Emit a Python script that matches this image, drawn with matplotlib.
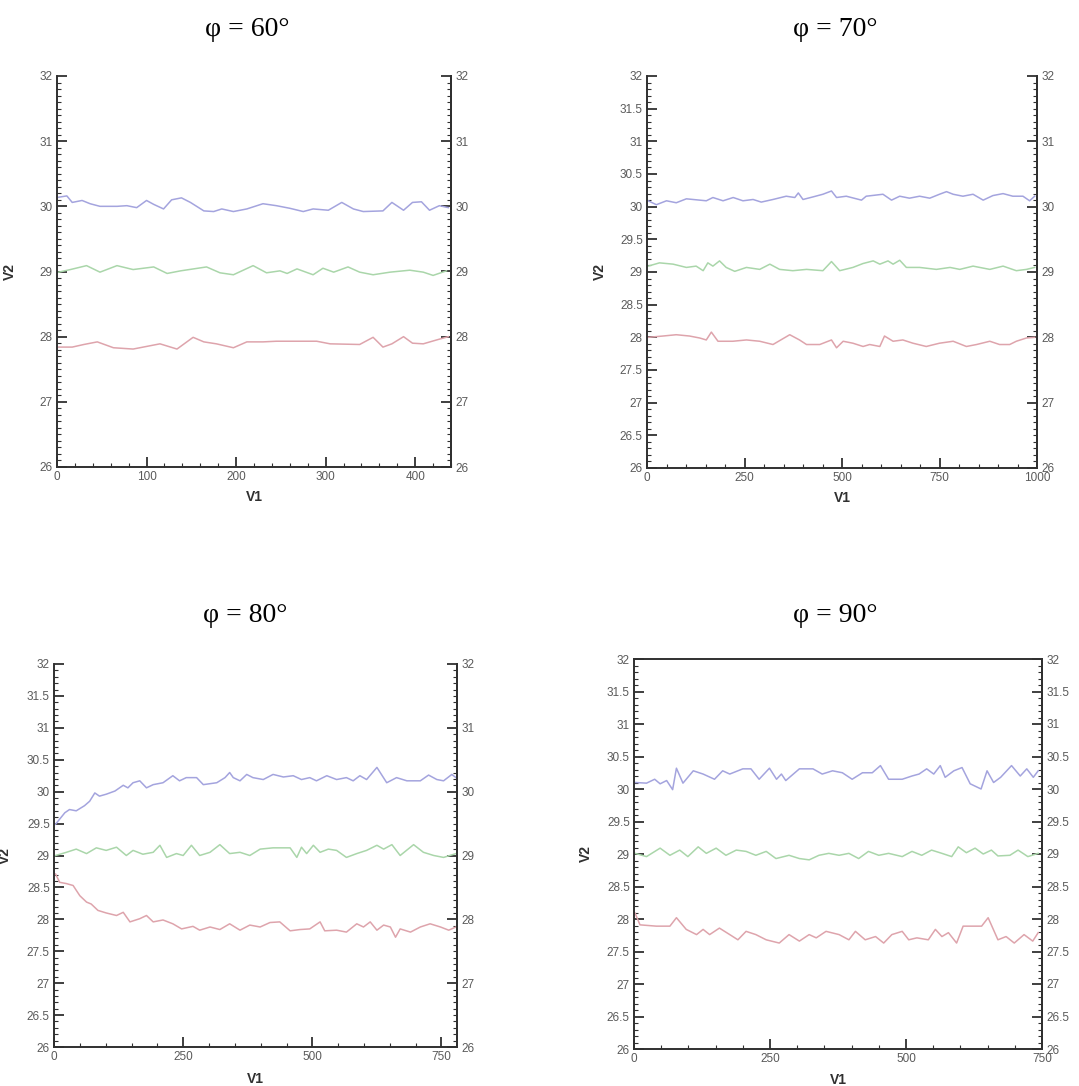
import numpy as np
import matplotlib
matplotlib.use('Agg')
import matplotlib.pyplot as plt
from matplotlib.ticker import MultipleLocator

# ---- phi = 60 ----
x60_blue = [2, 11, 17, 28, 37, 48, 67, 78, 89, 100, 108, 119, 128, 139, 149, 164, 175, 184, 197, 212,
            230, 245, 260, 275, 286, 303, 318, 331, 342, 364, 374, 387, 397, 407, 416, 427, 437]
v60_blue = [30.14, 30.16, 30.06, 30.09, 30.04, 30.0, 30.0, 30.01, 29.98, 30.09, 30.03, 29.96, 30.1, 30.13,
            30.06, 29.93, 29.92, 29.96, 29.92, 29.96, 30.04, 30.01, 29.97, 29.92, 29.96, 29.94, 30.06,
            29.96, 29.92, 29.93, 30.06, 29.94, 30.06, 30.07, 29.94, 30.01, 29.98]
x60_green = [2, 15, 33, 48, 67, 85, 108, 123, 138, 167, 182, 197, 219, 234, 249, 257, 268, 286, 297, 309,
             325, 338, 353, 372, 394, 409, 420, 435]
v60_green = [28.99, 29.03, 29.09, 28.99, 29.09, 29.03, 29.07, 28.97, 29.01, 29.07, 28.98, 28.95, 29.09,
             28.98, 29.01, 28.97, 29.04, 28.95, 29.05, 28.99, 29.07, 28.99, 28.95, 28.99, 29.02, 28.99,
             28.94, 29.01]
x60_red = [2, 17, 30, 45, 63, 85, 100, 115, 134, 152, 164, 178, 197, 212, 230, 245, 290, 305, 338, 353,
           364, 374, 387, 397, 409, 424, 437]
v60_red = [27.84, 27.84, 27.88, 27.92, 27.83, 27.81, 27.85, 27.89, 27.81, 27.99, 27.92, 27.89, 27.83,
           27.92, 27.92, 27.93, 27.93, 27.89, 27.88, 27.99, 27.84, 27.89, 28.0, 27.9, 27.89, 27.95, 28.0]

# ---- phi = 70 ----
x70_blue = [3, 24, 50, 75, 101, 135, 152, 169, 195, 221, 246, 272, 293, 323, 357, 379, 388, 400, 426,
            451, 473, 486, 511, 550, 562, 605, 627, 648, 673, 699, 725, 750, 768, 785, 810, 836, 862,
            887, 913, 938, 964, 981, 994]
v70_blue = [30.09, 30.03, 30.09, 30.06, 30.12, 30.1, 30.09, 30.14, 30.09, 30.14, 30.09, 30.11, 30.07,
            30.11, 30.16, 30.14, 30.21, 30.11, 30.15, 30.19, 30.24, 30.14, 30.16, 30.1, 30.16, 30.19,
            30.1, 30.16, 30.13, 30.16, 30.13, 30.19, 30.23, 30.19, 30.16, 30.19, 30.1, 30.17, 30.2,
            30.16, 30.16, 30.09, 30.16]
x70_green = [3, 32, 67, 101, 126, 144, 156, 169, 186, 203, 225, 255, 289, 315, 340, 374, 409, 451, 473,
             494, 528, 554, 580, 597, 618, 631, 648, 665, 699, 742, 777, 802, 836, 879, 913, 947, 973, 994]
v70_green = [29.09, 29.14, 29.12, 29.07, 29.09, 29.02, 29.14, 29.09, 29.17, 29.07, 29.01, 29.07, 29.04,
             29.12, 29.04, 29.02, 29.04, 29.02, 29.16, 29.02, 29.07, 29.13, 29.17, 29.12, 29.17, 29.12,
             29.18, 29.07, 29.07, 29.04, 29.07, 29.04, 29.09, 29.04, 29.09, 29.02, 29.04, 29.07]
x70_red = [3, 41, 75, 109, 135, 152, 165, 182, 220, 255, 289, 323, 366, 391, 409, 443, 473, 486, 503,
           528, 554, 571, 597, 609, 631, 656, 682, 716, 750, 785, 819, 845, 879, 904, 930, 947, 973, 994]
v70_red = [28.0, 28.02, 28.04, 28.02, 27.99, 27.96, 28.08, 27.94, 27.94, 27.96, 27.94, 27.89, 28.04,
           27.96, 27.89, 27.89, 27.96, 27.84, 27.94, 27.91, 27.86, 27.89, 27.86, 28.02, 27.94, 27.96,
           27.91, 27.86, 27.91, 27.94, 27.86, 27.89, 27.94, 27.89, 27.89, 27.94, 27.99, 28.0]

# ---- phi = 80 ----
x80_blue = [3, 11, 21, 30, 43, 59, 69, 79, 88, 101, 118, 134, 143, 153, 166, 179, 192, 211, 230, 243,
            256, 276, 289, 315, 331, 340, 347, 360, 373, 385, 405, 424, 444, 463, 479, 495, 508, 528,
            547, 566, 579, 592, 605, 625, 644, 663, 683, 709, 725, 741, 754, 770, 778]
v80_blue = [29.49, 29.57, 29.67, 29.72, 29.70, 29.78, 29.85, 29.98, 29.93, 29.96, 30.01, 30.10, 30.06,
            30.14, 30.17, 30.06, 30.11, 30.14, 30.25, 30.17, 30.22, 30.22, 30.11, 30.14, 30.22, 30.30,
            30.22, 30.17, 30.27, 30.22, 30.19, 30.27, 30.23, 30.25, 30.19, 30.22, 30.17, 30.25, 30.19,
            30.22, 30.17, 30.25, 30.19, 30.38, 30.14, 30.22, 30.17, 30.17, 30.26, 30.19, 30.17, 30.27,
            30.22]
x80_green = [3, 24, 43, 63, 82, 101, 121, 140, 153, 172, 192, 205, 218, 237, 250, 266, 282, 302, 321,
             340, 360, 379, 399, 424, 457, 470, 479, 489, 502, 515, 531, 547, 566, 586, 605, 625, 638,
             654, 670, 696, 715, 735, 754, 778]
v80_green = [29.0, 29.05, 29.10, 29.03, 29.12, 29.08, 29.13, 29.0, 29.08, 29.02, 29.05, 29.16, 28.97,
             29.03, 29.0, 29.16, 29.0, 29.05, 29.17, 29.03, 29.05, 29.0, 29.10, 29.12, 29.12, 28.97,
             29.13, 29.03, 29.16, 29.05, 29.10, 29.08, 28.97, 29.03, 29.08, 29.16, 29.10, 29.17, 29.0,
             29.17, 29.05, 29.0, 28.97, 29.03]
x80_red = [3, 11, 24, 37, 50, 63, 72, 85, 101, 121, 134, 147, 166, 179, 192, 211, 230, 247, 269, 282,
           302, 321, 340, 360, 379, 399, 418, 437, 457, 476, 495, 515, 524, 547, 566, 586, 599, 612,
           625, 638, 651, 661, 670, 690, 709, 728, 748, 764, 778]
v80_red = [28.71, 28.58, 28.56, 28.53, 28.37, 28.27, 28.24, 28.14, 28.10, 28.06, 28.11, 27.96, 28.01,
           28.06, 27.96, 27.99, 27.93, 27.85, 27.89, 27.83, 27.88, 27.84, 27.93, 27.83, 27.91, 27.88,
           27.95, 27.96, 27.82, 27.84, 27.85, 27.96, 27.82, 27.83, 27.80, 27.93, 27.88, 27.96, 27.83,
           27.91, 27.88, 27.72, 27.85, 27.80, 27.88, 27.93, 27.88, 27.83, 27.88]

# ---- phi = 90 ----
x90_blue = [2, 23, 38, 48, 60, 71, 78, 90, 109, 127, 148, 163, 176, 200, 215, 230, 249, 262, 271, 279,
            304, 329, 346, 365, 383, 401, 420, 438, 453, 468, 493, 511, 524, 538, 551, 563, 572, 588,
            603, 618, 638, 649, 661, 674, 694, 710, 722, 734, 743]
v90_blue = [30.1, 30.09, 30.15, 30.08, 30.13, 29.99, 30.32, 30.09, 30.28, 30.23, 30.15, 30.28, 30.23,
            30.31, 30.31, 30.15, 30.32, 30.15, 30.23, 30.13, 30.31, 30.31, 30.23, 30.28, 30.25, 30.15,
            30.25, 30.25, 30.36, 30.15, 30.15, 30.2, 30.23, 30.31, 30.23, 30.36, 30.18, 30.28, 30.33,
            30.08, 30.0, 30.28, 30.1, 30.18, 30.36, 30.2, 30.31, 30.18, 30.28]
x90_green = [2, 23, 48, 66, 84, 99, 118, 133, 151, 169, 188, 206, 224, 243, 261, 285, 304, 322, 340,
             358, 377, 395, 413, 431, 450, 468, 493, 511, 529, 547, 566, 584, 596, 611, 627, 642, 657,
             669, 691, 706, 724, 743]
v90_green = [29.01, 28.96, 29.09, 28.98, 29.06, 28.96, 29.11, 29.01, 29.09, 28.98, 29.06, 29.04, 28.98,
             29.04, 28.93, 28.98, 28.93, 28.91, 28.98, 29.01, 28.98, 29.01, 28.93, 29.04, 28.98, 29.01,
             28.96, 29.04, 28.98, 29.06, 29.01, 28.96, 29.11, 29.02, 29.09, 29.0, 29.06, 28.97, 28.98,
             29.06, 28.96, 29.01]
x90_red = [2, 11, 41, 66, 78, 96, 115, 127, 139, 157, 176, 191, 206, 224, 243, 267, 285, 304, 322, 335,
           353, 377, 395, 407, 425, 444, 459, 474, 493, 505, 520, 541, 554, 566, 578, 593, 605, 639,
           651, 669, 684, 699, 717, 733, 743]
v90_red = [28.09, 27.91, 27.89, 27.89, 28.02, 27.84, 27.76, 27.84, 27.76, 27.86, 27.76, 27.68, 27.81,
           27.76, 27.68, 27.63, 27.76, 27.66, 27.76, 27.71, 27.81, 27.76, 27.68, 27.81, 27.68, 27.73,
           27.63, 27.76, 27.81, 27.68, 27.71, 27.68, 27.84, 27.73, 27.79, 27.63, 27.89, 27.89, 28.02,
           27.68, 27.73, 27.63, 27.76, 27.66, 27.79]

titles = ['φ = 60°', 'φ = 70°', 'φ = 80°', 'φ = 90°']
x_max = [440, 1000, 780, 750]
x_major = [100, 250, 250, 250]
left_step = [1, 0.5, 0.5, 0.5]
right_step = [1, 1, 1, 0.5]

series = [
    [(x60_blue, v60_blue), (x60_green, v60_green), (x60_red, v60_red)],
    [(x70_blue, v70_blue), (x70_green, v70_green), (x70_red, v70_red)],
    [(x80_blue, v80_blue), (x80_green, v80_green), (x80_red, v80_red)],
    [(x90_blue, v90_blue), (x90_green, v90_green), (x90_red, v90_red)],
]
colors = ['#a4a4de', '#aad6aa', '#dea4ac']

W, H = 1079, 1086
# axes boxes in pixels: left, top, right, bottom
boxes = [(57, 76, 451, 467), (647, 76, 1037, 468), (54, 664, 457, 1047), (634, 659, 1042, 1049)]
title_pos = [(247, 30), (835, 30), (245, 615), (835, 615)]
ylabel_off = [40, 40, 42, 41]
xlabel_off = [23, 23, 25, 24]

spine_col = '#303030'
tick_col = '#5a5a5a'
tick_font = 'Liberation Sans'

fig = plt.figure(figsize=(W / 100, H / 100), dpi=100)

for i in range(4):
    l, t, r, b = boxes[i]
    ax = fig.add_axes([l / W, 1 - b / H, (r - l) / W, (b - t) / H])
    for (xs, ys), c in zip(series[i], colors):
        ax.plot(xs, ys, color=c, lw=1.1)
    ax.set_xlim(0, x_max[i])
    ax.set_ylim(26, 32)

    ax.xaxis.set_major_locator(MultipleLocator(x_major[i]))
    ax.xaxis.set_minor_locator(MultipleLocator(x_major[i] / 5))
    ax.yaxis.set_major_locator(MultipleLocator(left_step[i]))
    ax.yaxis.set_minor_locator(MultipleLocator(0.1))
    ax.tick_params(which='major', direction='in', length=7, width=1.3, color=spine_col,
                   labelsize=8.5, labelcolor=tick_col, pad=3, top=False, right=False)
    ax.tick_params(which='minor', direction='in', length=3, width=0.8, color=spine_col,
                   top=False, right=False)
    for lab in ax.get_xticklabels() + ax.get_yticklabels():
        lab.set_fontfamily(tick_font)
    ax.yaxis.set_major_formatter(plt.FuncFormatter(lambda v, p: f'{v:g}'))

    for s in ['left', 'right', 'bottom', 'top']:
        ax.spines[s].set_color(spine_col)
        ax.spines[s].set_linewidth(1.4)
    if i != 3:
        ax.spines['top'].set_visible(False)

    sec = ax.secondary_yaxis('right')
    sec.yaxis.set_major_locator(MultipleLocator(right_step[i]))
    sec.yaxis.set_minor_locator(MultipleLocator(0.1))
    sec.yaxis.set_major_formatter(plt.FuncFormatter(lambda v, p: f'{v:g}'))
    sec.tick_params(which='major', direction='in', length=7, width=1.3, color=spine_col,
                    labelsize=8.5, labelcolor=tick_col, pad=3)
    sec.tick_params(which='minor', direction='in', length=3, width=0.8, color=spine_col)
    sec.spines['right'].set_color(spine_col)
    sec.spines['right'].set_linewidth(1.4)
    for lab in sec.get_yticklabels():
        lab.set_fontfamily(tick_font)

    ax.set_ylabel('V2', fontsize=10, fontweight='bold', color='#303030', family=tick_font)
    ax.yaxis.set_label_coords(-ylabel_off[i] / (r - l), 0.5)
    ax.set_xlabel('V1', fontsize=10, fontweight='bold', color='#303030', family=tick_font)
    ax.xaxis.set_label_coords(0.5, -xlabel_off[i] / (b - t))

    tx, ty = title_pos[i]
    fig.text(tx / W, 1 - ty / H, titles[i], ha='center', va='center', fontsize=20,
             family='Liberation Serif')

fig.savefig('out.png', dpi=100)
